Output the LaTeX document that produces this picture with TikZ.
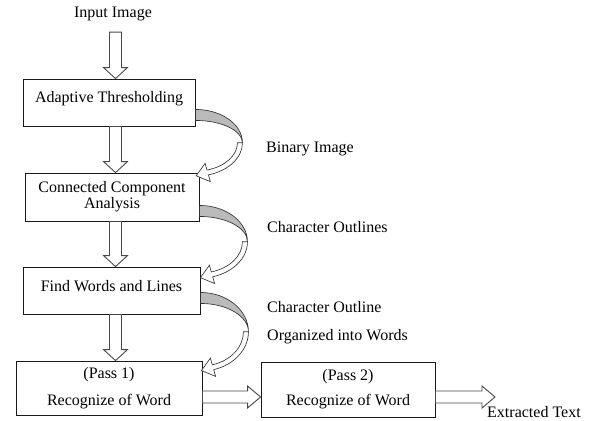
\documentclass[tikz,border=0pt]{standalone}
\usepackage{fontspec}
\setmainfont{Liberation Serif}
\usetikzlibrary{calc}
% vertical block arrow: #1 start (centre of top), #2 tip
\newcommand{\varrowblk}[2]{%
  \draw[blk] let \p1=#1, \p2=#2 in
    (\x1-6pt,\y1) -- (\x1-6pt,\y2+11pt) -- (\x1-12pt,\y2+11pt) -- (\x1,\y2)
    -- (\x1+12pt,\y2+11pt) -- (\x1+6pt,\y2+11pt) -- (\x1+6pt,\y1) -- cycle;}
% horizontal block arrow: #1 start (centre of left end), #2 tip (x only)
\newcommand{\harrowblk}[2]{%
  \draw[blk] let \p1=#1, \p2=#2 in
    (\x1,\y1+6pt) -- (\x2-13pt,\y1+6pt) -- (\x2-13pt,\y1+11pt) -- (\x2,\y1)
    -- (\x2-13pt,\y1-11pt) -- (\x2-13pt,\y1-6pt) -- (\x1,\y1-6pt) -- cycle;}
\tikzset{
  txtfont/.style={font=\fontsize{16pt}{16pt}\selectfont},
  box/.style={draw=black!90, line width=0.9pt, inner sep=0pt, txtfont},
  mbox/.style={box, align=center},
  lbl/.style={inner sep=0pt, txtfont},
  blk/.style={draw=black!72, line width=0.9pt, fill=white},
  curvgray/.style={draw=black!80, line width=0.65pt, fill=black!27},
  curvwhite/.style={draw=black!80, line width=0.65pt, fill=white},
  pics/curvarr/.style n args={2}{code={
    \path[curvgray] (0,0) arc[start angle=-90, end angle=0, x radius=#1, y radius=#2]
      arc[start angle=0, end angle=-90, x radius=#1, y radius={#2-11}] -- cycle;
    \path[curvwhite] (#1,#2) arc[start angle=0, end angle=74, x radius=#1, y radius=#2]
      -- ({(#1+7)*cos(74)}, {#2+(#2+7)*sin(74)})
      -- ({(#1-2.5)*cos(74)-12*sin(74)}, {#2+(#2-2.5)*sin(74)+12*cos(74)})
      -- ({(#1-12)*cos(74)}, {#2+(#2-12)*sin(74)})
      -- ({(#1-5)*cos(74)}, {#2+(#2-5)*sin(74)})
      arc[start angle=74, end angle=0, x radius={#1-5}, y radius={#2-5}] -- cycle;
  }}
}
\begin{document}
\begin{tikzpicture}[x=1pt,y=-1pt]
  \fill[white] (0,0) rectangle (601,420);
  \useasboundingbox (0,0) rectangle (601,420);

  \node[lbl, anchor=base] (in) at (113,17.5) {Input Image};

  \node[box, minimum width=172pt, minimum height=47pt, text height=11pt, text depth=12pt]
    (b1) at (109,102.5) {Adaptive Thresholding};
  \node[mbox, minimum width=174pt, minimum height=48pt]
    (b2) at (112,197) {Connected Component\\Analysis};
  \node[box, minimum width=177pt, minimum height=47pt, text height=11pt, text depth=10pt]
    (b3) at (111.5,290.5) {Find Words and Lines};
  \node[mbox, minimum width=186pt, minimum height=54pt]
    (b4) at (109,388) {(Pass 1)\\[11pt]Recognize of Word};
  \node[mbox, minimum width=174pt, minimum height=55pt]
    (b5) at (348,389.5) {(Pass 2)\\[9pt]Recognize of Word};

  \node[lbl, anchor=base west] (l1) at (266,152) {Binary Image};
  \node[lbl, anchor=base west] (l2) at (267,232) {Character Outlines};
  \node[lbl, anchor=base west] (l3) at (267,312) {Character Outline};
  \node[lbl, anchor=base west] (l4) at (267,340) {Organized into Words};
  \node[lbl, anchor=base west] (l5) at (487,417) {Extracted Text};
  \coordinate (outend) at (495,397);

  % straight block arrows
  \varrowblk{($(in.south)+(2.5,11)$)}{($(b1.north)+(6.5,0)$)}
  \varrowblk{($(b1.south)+(6.5,0)$)}{($(b2.north)+(3.5,0)$)}
  \varrowblk{($(b2.south)+(3.5,0)$)}{(b3.north)}
  \varrowblk{($(b3.south)+(4,0)$)}{(b4.north)}
  \harrowblk{($(b4.east)+(0,9)$)}{(b5.west)}
  \harrowblk{($(b5.east)+(0,7.5)$)}{(outend)}

  % curved arrows
  \pic at ($(b1.south east)+(0,-17)$) {curvarr={47}{33.35}};
  \pic at ($(b2.south east)+(0,-16)$) {curvarr={48}{36.35}};
  \pic at ($(b3.south east)+(0,-22)$) {curvarr={48}{39.35}};
\end{tikzpicture}
\end{document}
